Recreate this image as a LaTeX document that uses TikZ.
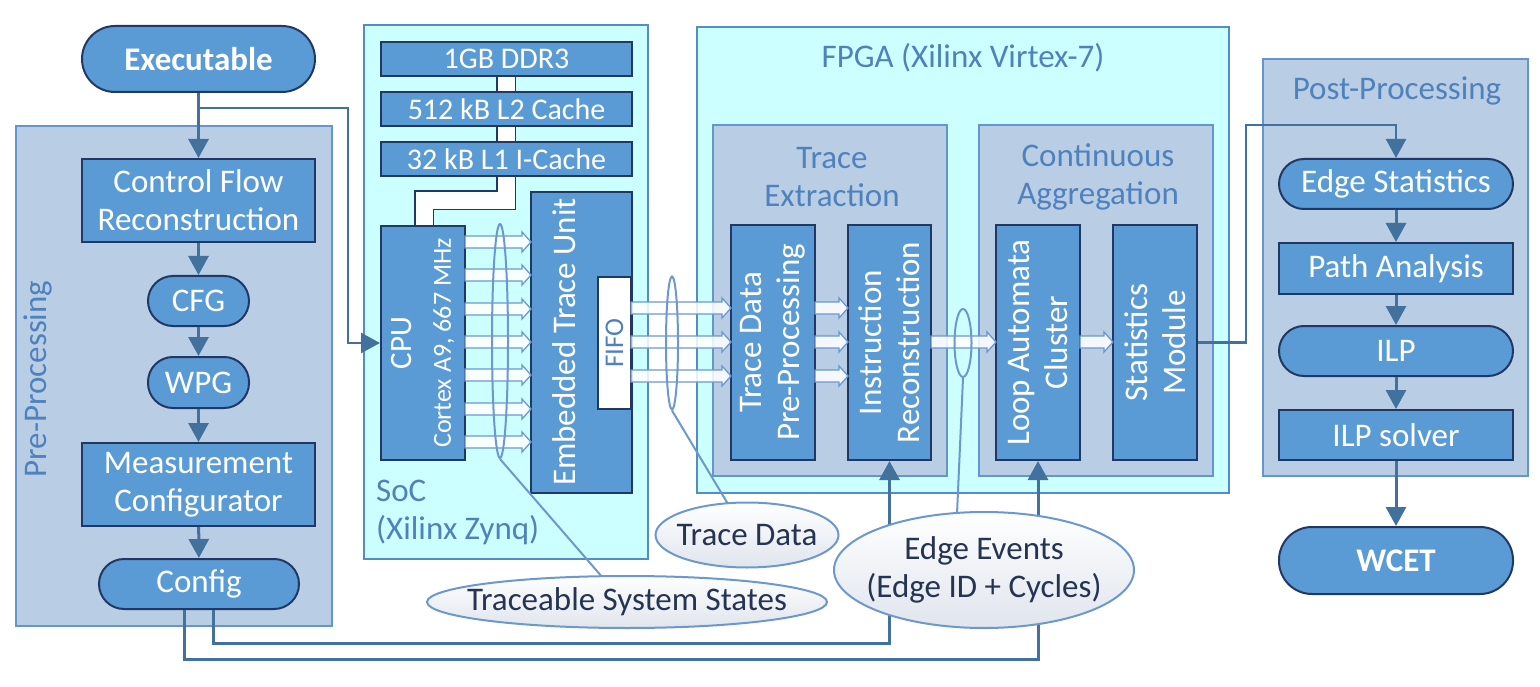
\documentclass[tikz,border=0pt]{standalone}
\usepackage{fontspec}
\setmainfont{Carlito}
\usetikzlibrary{arrows.meta,shapes.geometric,calc}
\definecolor{boxblue}{RGB}{91,155,213}
\definecolor{navy}{RGB}{34,56,100}
\definecolor{grpfill}{RGB}{185,205,229}
\definecolor{grpdraw}{RGB}{100,149,205}
\definecolor{chipfill}{RGB}{204,255,255}
\definecolor{chipdraw}{RGB}{84,140,200}
\definecolor{glabeltxt}{RGB}{79,129,189}
\definecolor{arrowblue}{RGB}{65,113,156}
\definecolor{busdraw}{RGB}{108,152,206}
\definecolor{callbot}{RGB}{224,229,237}
\definecolor{calltxt}{RGB}{36,52,82}
\newcommand\fsA{\fontsize{33}{38}\selectfont}
\newcommand\fsB{\fontsize{30}{34}\selectfont}
\newcommand\fsC{\fontsize{26}{31}\selectfont}
\newcommand\fsD{\fontsize{27}{32}\selectfont}
\newcommand\bxnode[7]{\node[#1, minimum width={(#5-#3)*1pt}, minimum height={(#6-#4)*1pt}] (#2) at ({(#3+#5)/2},{(#4+#6)/2}) {#7};}
\newcommand\busarrow[3]{\filldraw[busarr] (#1,#3-6) -- (#2-9,#3-6) -- (#2-9,#3-10) -- (#2,#3) -- (#2-9,#3+10) -- (#2-9,#3+6) -- (#1,#3+6) -- cycle;}
\begin{document}
\begin{tikzpicture}[x=1pt,y=-1pt,
  box/.style={draw=navy, line width=2pt, fill=boxblue, text=white, inner sep=0pt, font=\fsA, align=center},
  pill/.style={box, rounded corners=#1},
  grp/.style={draw=grpdraw, line width=2pt, fill=grpfill, inner sep=0pt},
  chip/.style={draw=chipdraw, line width=2pt, fill=chipfill, inner sep=0pt},
  glabel/.style={text=glabeltxt, font=\fsA, align=center, inner sep=0pt},
  rot/.style={rotate=90, text=white, align=center, inner sep=0pt, font=\fsA},
  flow/.style={draw=arrowblue, line width=3pt, -{Triangle[length=19pt,width=20pt]}},
  busarr/.style={draw=busdraw, line width=1.3pt, fill=white, fill opacity=0.85},
  bell/.style={ellipse, draw=busdraw, line width=2pt, inner sep=0pt},
  callell/.style={ellipse, draw=busdraw, line width=2pt, top color=white, bottom color=callbot, inner sep=0pt},
  calltext/.style={text=calltxt, font=\fsA, align=center, inner sep=0pt},
  callline/.style={draw=busdraw, line width=2pt},
  barout/.style={draw=navy, line width=20pt, line join=miter},
  barin/.style={draw=white, line width=17pt, line join=miter}
]
\useasboundingbox (0,0) rectangle (1540,687);

% containers
\bxnode{grp}{pre}{16}{126}{332}{626}{}
\bxnode{chip}{soc}{364}{25}{648}{559}{}
\bxnode{chip}{fpga}{697}{27}{1229}{493}{}
\bxnode{grp}{te}{713}{125}{947}{476}{}
\bxnode{grp}{ca}{979}{125}{1213}{476}{}
\bxnode{grp}{post}{1263}{59}{1528}{476}{}

\node[glabel, rotate=90] at (38,379) {Pre-Processing};
\node[glabel, anchor=west, align=left] at (376,512) {SoC\\(Xilinx Zynq)};
\node[glabel] at (963,58) {FPGA (Xilinx Virtex-7)};
\node[glabel] at (832,177) {Trace\\Extraction};
\node[glabel] at (1098,177) {Continuous\\Aggregation};
\node[glabel] at (1397,91) {Post-Processing};

% cache connectors
\draw[barout] (506,70) -- (506,98);
\draw[barin] (506,70) -- (506,98);
\draw[barout] (506,120) -- (506,148);
\draw[barin] (506,120) -- (506,148);
\draw[barout] (506,170) -- (506,200.5) -- (424,200.5) -- (424,232);
\draw[barin] (506,170) -- (506,200.5) -- (424,200.5) -- (424,232);

% left column
\bxnode{pill=33pt}{exe}{82}{26}{315}{92}{\bfseries Executable}
\bxnode{box}{cfr}{82}{159}{315}{242}{Control Flow\\Reconstruction}
\bxnode{pill=25pt}{cfg}{148}{276}{249}{326}{CFG}
\bxnode{pill=25pt}{wpg}{148}{357}{249}{408}{WPG}
\bxnode{box}{mc}{82}{443}{315}{526}{Measurement\\Configurator}
\bxnode{pill=25pt}{conf}{99}{559}{299}{609}{Config}

% SoC
\bxnode{box, font=\fsB}{ddr}{381}{42}{632}{76}{1GB DDR3}
\bxnode{box, font=\fsB}{l2}{381}{92}{632}{126}{512 kB L2 Cache}
\bxnode{box, font=\fsB}{l1}{381}{142}{632}{176}{32 kB L1 I-Cache}
\bxnode{box}{cpu}{381}{226}{465}{460}{}
\node[rot] at (cpu) {{\fontsize{31}{38}\selectfont CPU}\\[1pt]{\fsC Cortex A9, 667 MHz}};
\bxnode{box}{etu}{531}{192}{632}{493}{}
\node[rot] at (564,342) {Embedded Trace Unit};
\bxnode{box, fill=white}{fifo}{598}{277}{631}{409}{}
\node[rot, text=glabeltxt, font=\fsD] at (fifo) {FIFO};

% FPGA
\bxnode{box}{tdp}{731}{225}{815}{460}{}
\node[rot] at (tdp) {Trace Data\\Pre-Processing};
\bxnode{box}{ir}{848}{225}{931}{460}{}
\node[rot] at (ir) {Instruction\\Reconstruction};
\bxnode{box}{lac}{996}{225}{1080}{460}{}
\node[rot] at (lac) {Loop Automata\\Cluster};
\bxnode{box}{sm}{1113}{225}{1197}{460}{}
\node[rot] at (sm) {Statistics\\Module};

% post-processing
\bxnode{pill=25pt}{es}{1279}{159}{1513}{209}{Edge Statistics}
\bxnode{box}{pa}{1279}{243}{1513}{294}{Path Analysis}
\bxnode{pill=25pt}{ilp}{1279}{326}{1513}{376}{ILP}
\bxnode{box}{ilps}{1279}{410}{1513}{460}{ILP solver}
\bxnode{pill=33pt}{wcet}{1279}{527}{1513}{594}{\bfseries WCET}

% bus arrows
\foreach \y in {242,275,309,342,375,409,442} {\busarrow{465}{531}{\y}}
\foreach \y in {308,342,376} {\busarrow{631}{731}{\y}}
\foreach \y in {308,342,376} {\busarrow{815}{848}{\y}}
\busarrow{931}{996}{342}
\busarrow{1080}{1113}{342}
\node[bell, minimum width=16pt, minimum height=234pt] (b1) at (500,341) {};
\node[bell, minimum width=12pt, minimum height=133pt] (b2) at (672,343) {};
\node[bell, minimum width=17pt, minimum height=68pt] (b3) at (963,343) {};

% flow connectors
\draw[flow] (exe) -- (cfr);
\draw[flow] (cfr) -- (cfg);
\draw[flow] (cfg) -- (wpg);
\draw[flow] (wpg) -- (mc);
\draw[flow] (mc) -- (conf);
\draw[flow] (es) -- (pa);
\draw[flow] (pa) -- (ilp);
\draw[flow] (ilp) -- (ilps);
\draw[flow] (ilps) -- (wcet);
\coordinate (br) at (198.5,108);
\coordinate (bc) at (348,108);
\draw[flow, line width=2.5pt] (br) -- (bc) |- (cpu.west);
\coordinate (c1) at (213,643);
\coordinate (c2) at (184,659);
\draw[flow] (conf.south -| c1) -- (c1) -| (ir.south);
\draw[flow] (conf.south -| c2) -- (c2) -| (lac.south);
\coordinate (k) at (1246,125);
\draw[flow, line width=2.5pt] (sm.east) -| (k) -| (es.north);

% callouts
\draw[callline] (b1.south) -- (603,578) coordinate (t1);
\draw[callline] (b2.south) -- (728,504) coordinate (t2);
\draw[callline] (b3.south) -- (957,514) coordinate (t3);
\node[callell, minimum width=400pt, minimum height=52pt] (tss) at (627,602) {};
\node[calltext] at (tss) {Traceable System States};
\node[callell, minimum width=183pt, minimum height=65pt] (tdc) at (747,535) {};
\node[calltext] at (tdc) {Trace Data};
\node[callell, minimum width=300pt, minimum height=116pt] (ee) at (984,570) {};
\node[calltext] at (ee) {Edge Events\\(Edge ID + Cycles)};
\end{tikzpicture}
\end{document}
